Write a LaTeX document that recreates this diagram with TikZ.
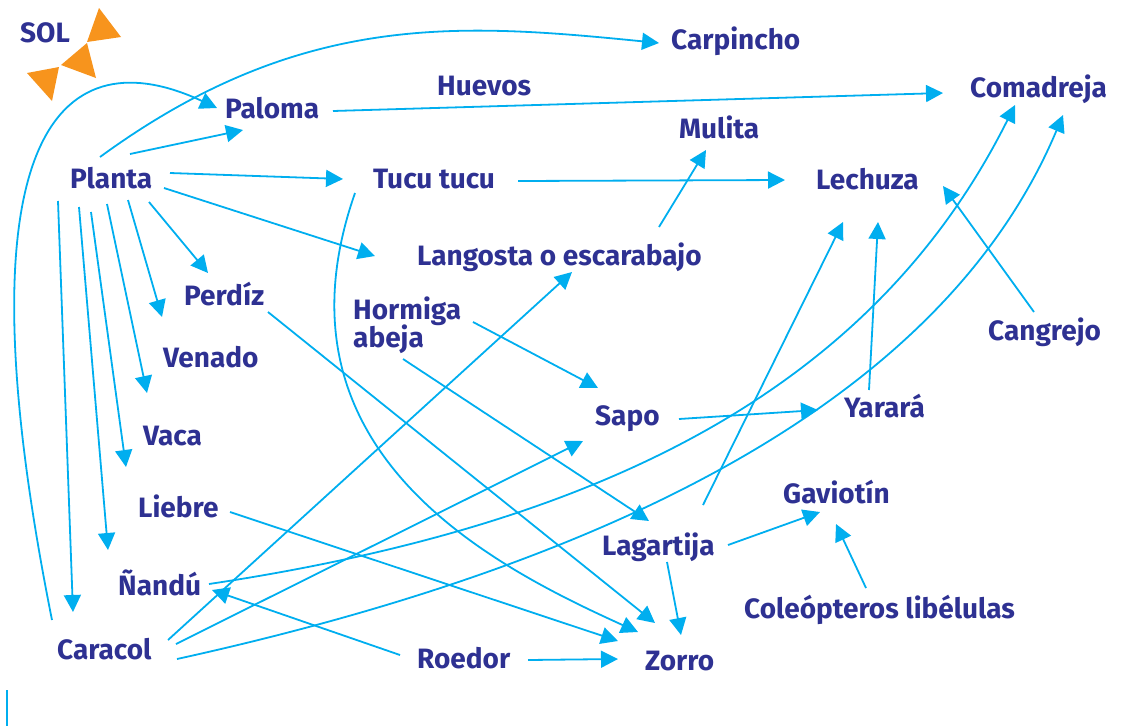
\documentclass[tikz,border=0pt]{standalone}
\usepackage{fontspec}
\setmainfont{Fira Sans}
\usetikzlibrary{arrows.meta}
\definecolor{navy}{RGB}{46,49,146}
\definecolor{cyanl}{RGB}{0,174,239}
\definecolor{sunor}{RGB}{247,148,29}
\begin{document}
\begin{tikzpicture}[x=1pt,y=-1pt,
  lbl/.style={text=navy,font=\bfseries\fontsize{28}{23}\selectfont,inner sep=0pt,anchor=base west},
  arr/.style={draw=cyanl,line width=1.8pt,-{Triangle[length=17pt,width=17pt]}},
  plainline/.style={draw=cyanl,line width=1.8pt}]
\useasboundingbox (0,0) rectangle (1123,726);
% sun
\fill[sunor] (99,8) -- (121,37) -- (87,42) -- cycle;
\fill[sunor] (87,43) -- (96,78) -- (61,65) -- cycle;
\fill[sunor] (27,73) -- (59,67) -- (52,101) -- cycle;
% labels
\node[lbl] (sol) at (20,42) {SOL};
\node[lbl] (carpincho) at (671,49) {Carpincho};
\node[lbl] (paloma) at (225,118) {Paloma};
\node[lbl] (huevos) at (437,95) {Huevos};
\node[lbl] (comadreja) at (970,97) {Comadreja};
\node[lbl] (mulita) at (679,138) {Mulita};
\node[lbl] (planta) at (70,188) {Planta};
\node[lbl] (tucu) at (373,188) {Tucu tucu};
\node[lbl] (lechuza) at (816,189) {Lechuza};
\node[lbl] (langosta) at (417,265) {Langosta o escarabajo};
\node[lbl] (perdiz) at (184,305) {Perdíz};
\node[lbl,anchor=north west,align=left] (hormiga) at (353,297) {Hormiga\\[-2pt]abeja};
\node[lbl] (venado) at (163,367) {Venado};
\node[lbl] (cangrejo) at (988,340) {Cangrejo};
\node[lbl] (sapo) at (595,425) {Sapo};
\node[lbl] (yarara) at (844,417) {Yarará};
\node[lbl] (vaca) at (143,445) {Vaca};
\node[lbl] (gaviotin) at (783,503) {Gaviotín};
\node[lbl] (liebre) at (138,517) {Liebre};
\node[lbl] (lagartija) at (602,555) {Lagartija};
\node[lbl] (nandu) at (118,595) {Ñandú};
\node[lbl] (coleop) at (744,618) {Coleópteros libélulas};
\node[lbl] (caracol) at (57,659) {Caracol};
\node[lbl] (roedor) at (417,668) {Roedor};
\node[lbl] (zorro) at (645,670) {Zorro};
% connectors
\draw[arr] ([shift={(30,-31)}]planta.base west) .. controls (300,11) and (459,23) .. ([shift={(-12,-6)}]carpincho.base west);
\draw[arr] ([shift={(60,-34)}]planta.base west) -- ([shift={(18,12)}]paloma.base west);
\draw[arr] ([shift={(100,-15)}]planta.base west) -- ([shift={(-30,-9)}]tucu.base west);
\draw[arr] ([shift={(94,0)}]planta.base west) -- ([shift={(-42,-9)}]langosta.base west);
\draw[arr] ([shift={(79,14)}]planta.base west) -- ([shift={(24,-32)}]perdiz.base west);
\draw[arr] ([shift={(58,12)}]planta.base west) -- ([shift={(-1,-50)}]venado.base west);
\draw[arr] ([shift={(37,16)}]planta.base west) -- ([shift={(4,-52)}]vaca.base west);
\draw[arr] ([shift={(21,24)}]planta.base west) -- ([shift={(-12,-50)}]liebre.base west);
\draw[arr] ([shift={(9,19)}]planta.base west) -- ([shift={(-10,-45)}]nandu.base west);
\draw[arr] ([shift={(-12,13)}]planta.base west) -- ([shift={(16,-47)}]caracol.base west);
\draw[arr] ([shift={(108,-7)}]paloma.base west) -- ([shift={(-27,-4)}]comadreja.base west);
\draw[arr] ([shift={(-5,-39)}]caracol.base west) .. controls (-48,120) and (67,38) .. ([shift={(-8,-10)}]paloma.base west);
\draw[arr] ([shift={(145,-7)}]tucu.base west) -- ([shift={(-31,-9)}]lechuza.base west);
\draw[arr] ([shift={(-18,5)}]tucu.base west) .. controls (265,450) and (490,565) .. ([shift={(-7,-38)}]zorro.base west);
\draw[arr] ([shift={(84,7)}]perdiz.base west) -- ([shift={(10,-47)}]zorro.base west);
\draw[arr] ([shift={(92,-5)}]liebre.base west) -- ([shift={(-27,-29)}]zorro.base west);
\draw[arr] ([shift={(242,-38)}]langosta.base west) -- ([shift={(27,12)}]mulita.base west);
\draw[arr] ([shift={(111,-19)}]caracol.base west) -- ([shift={(155,7)}]langosta.base west);
\draw[arr] ([shift={(119,-15)}]caracol.base west) -- ([shift={(-12,16)}]sapo.base west);
\draw[arr] ([shift={(91,-11)}]nandu.base west) .. controls (609,524) and (875,385) .. ([shift={(45,8)}]comadreja.base west);
\draw[arr] ([shift={(120,0)}]caracol.base west) .. controls (577,571) and (937,415) .. ([shift={(93,18)}]comadreja.base west);
\draw[arr] ([shift={(-17,-13)}]roedor.base west) -- ([shift={(94,-5)}]nandu.base west);
\draw[arr] ([shift={(111,-8)}]roedor.base west) -- ([shift={(-27,-11)}]zorro.base west);
\draw[arr] ([shift={(120,25)}]hormiga.north west) -- ([shift={(3,-37)}]sapo.base west);
\draw[arr] ([shift={(50,62)}]hormiga.north west) -- ([shift={(47,-34)}]lagartija.base west);
\draw[arr] ([shift={(84,-6)}]sapo.base west) -- ([shift={(-26,-7)}]yarara.base west);
\draw[arr] ([shift={(25,-27)}]yarara.base west) -- ([shift={(62,33)}]lechuza.base west);
\draw[arr] ([shift={(101,-50)}]lagartija.base west) -- ([shift={(27,33)}]lechuza.base west);
\draw[arr] ([shift={(46,-28)}]cangrejo.base west) -- ([shift={(127,-3)}]lechuza.base west);
\draw[arr] ([shift={(126,-10)}]lagartija.base west) -- ([shift={(37,9)}]gaviotin.base west);
\draw[arr] ([shift={(122,-30)}]coleop.base west) -- ([shift={(53,21)}]gaviotin.base west);
\draw[arr] ([shift={(65,7)}]lagartija.base west) -- ([shift={(36,-35)}]zorro.base west);
% stray mark at bottom left
\draw[plainline] (7,690) -- (7,726);
\end{tikzpicture}
\end{document}
